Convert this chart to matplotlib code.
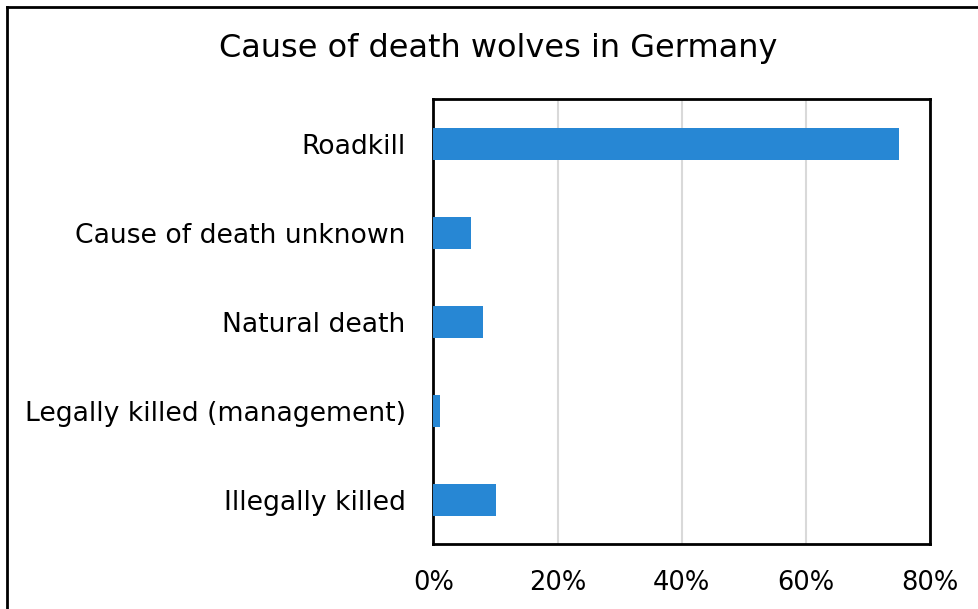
import matplotlib
matplotlib.use("Agg")
import matplotlib.pyplot as plt
from matplotlib.lines import Line2D
from matplotlib.ticker import PercentFormatter

categories = ["Roadkill", "Cause of death unknown", "Natural death",
              "Legally killed (management)", "Illegally killed"]
values = [75, 6, 8, 1, 10]
xticks = [0, 20, 40, 60, 80]
title = "Cause of death wolves in Germany"

W, H = 979, 609
fig = plt.figure(figsize=(W / 100, H / 100), dpi=100)
plt.rcParams['font.family'] = ['DejaVu Sans']

ax = fig.add_axes([433.5 / W, 1 - 544 / H, (930 - 433.5) / W, (544 - 99.3) / H])
ypos = list(range(len(categories)))
ax.barh(ypos, values, height=0.36, color="#2787d4", zorder=3)
ax.set_yticks(ypos)
ax.set_yticklabels(categories, fontsize=19.2)
ax.set_ylim(len(categories) - 0.5, -0.5)
ax.set_xlim(0, 80)
ax.set_xticks(xticks)
ax.xaxis.set_major_formatter(PercentFormatter(decimals=0))
ax.tick_params(axis="both", length=0, colors="black")
ax.tick_params(axis="x", pad=19, labelsize=18.5)
ax.tick_params(axis="y", pad=20, labelsize=19.2)
ax.grid(axis="x", color="#d9d9d9", linewidth=1.5, zorder=0)
for s in ax.spines.values():
    s.set_linewidth(2)
    s.set_color("black")

fig.text(498 / W, 1 - 48 / H, title, ha="center", va="center", fontsize=23)

fig.add_artist(Line2D([7 / W, 1.0], [1 - 7 / H, 1 - 7 / H], transform=fig.transFigure,
                      color="black", linewidth=2))
fig.add_artist(Line2D([7 / W, 7 / W], [0, 1 - 7 / H], transform=fig.transFigure,
                      color="black", linewidth=2))

fig.savefig("out.png", dpi=100)
